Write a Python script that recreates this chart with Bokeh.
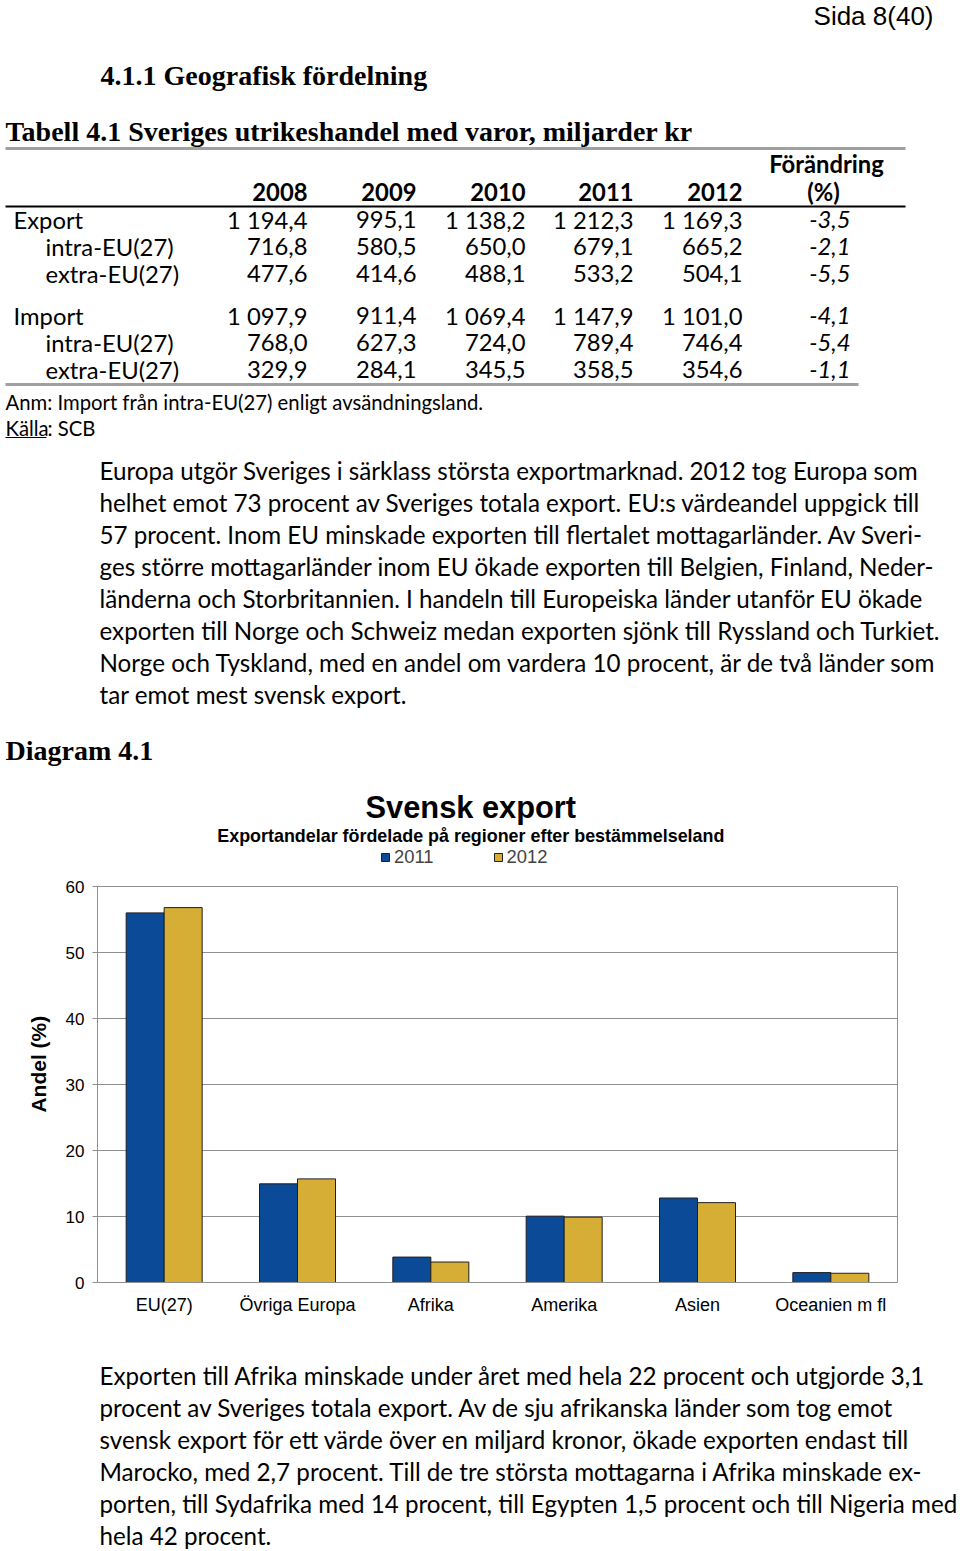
from bokeh.plotting import figure
from bokeh.models import (Range1d, FactorRange, Label, Legend, LegendItem,
                          FixedTicker, ColumnDataSource, LinearAxis)
from bokeh.embed import file_html
from bokeh.resources import INLINE
from bokeh.core.properties import value
from bokeh.transform import dodge

# ---------------- data ----------------
page_label = "Sida 8(40)"
section_heading = "4.1.1 Geografisk fördelning"
table_title = "Tabell 4.1 Sveriges utrikeshandel med varor, miljarder kr"
years = ["2008", "2009", "2010", "2011", "2012"]
change_header = ["Förändring", "(%)"]
row_labels = ["Export", "intra-EU(27)", "extra-EU(27)",
              "Import", "intra-EU(27)", "extra-EU(27)"]
export_total = ["1 194,4", "995,1", "1 138,2", "1 212,3", "1 169,3"]
export_intra = ["716,8", "580,5", "650,0", "679,1", "665,2"]
export_extra = ["477,6", "414,6", "488,1", "533,2", "504,1"]
import_total = ["1 097,9", "911,4", "1 069,4", "1 147,9", "1 101,0"]
import_intra = ["768,0", "627,3", "724,0", "789,4", "746,4"]
import_extra = ["329,9", "284,1", "345,5", "358,5", "354,6"]
change_pct = ["-3,5", "-2,1", "-5,5", "-4,1", "-5,4", "-1,1"]
note_text = "Anm: Import från intra-EU(27) enligt avsändningsland."
source_label = "Källa"
source_text = ": SCB"

paragraph_1 = [
    "Europa utgör Sveriges i särklass största exportmarknad. 2012 tog Europa som",
    "helhet emot 73 procent av Sveriges totala export. EU:s värdeandel uppgick till",
    "57 procent. Inom EU minskade exporten till flertalet mottagarländer. Av Sveri-",
    "ges större mottagarländer inom EU ökade exporten till Belgien, Finland, Neder-",
    "länderna och Storbritannien. I handeln till Europeiska länder utanför EU ökade",
    "exporten till Norge och Schweiz medan exporten sjönk till Ryssland och Turkiet.",
    "Norge och Tyskland, med en andel om vardera 10 procent, är de två länder som",
    "tar emot mest svensk export.",
]
diagram_heading = "Diagram 4.1"

chart_title = "Svensk export"
chart_subtitle = "Exportandelar fördelade på regioner efter bestämmelseland"
y_axis_title = "Andel (%)"
categories = ["EU(27)", "Övriga Europa", "Afrika", "Amerika", "Asien", "Oceanien m fl"]
series_names = ["2011", "2012"]
share_2011 = [56.0, 14.95, 3.85, 10.05, 12.8, 1.5]
share_2012 = [56.8, 15.7, 3.1, 9.9, 12.1, 1.4]
y_ticks = [0, 10, 20, 30, 40, 50, 60]

paragraph_2 = [
    "Exporten till Afrika minskade under året med hela 22 procent och utgjorde 3,1",
    "procent av Sveriges totala export. Av de sju afrikanska länder som tog emot",
    "svensk export för ett värde över en miljard kronor, ökade exporten endast till",
    "Marocko, med 2,7 procent. Till de tre största mottagarna i Afrika minskade ex-",
    "porten, till Sydafrika med 14 procent, till Egypten 1,5 procent och till Nigeria med",
    "hela 42 procent.",
]

# ---------------- styling ----------------
W = 960
BODY = "Lato"
BODY_SIZE = 24.2
TABLE_SIZE = 23.8
NOTE_SIZE = 20.3
HEAD_SIZE = 28
SERIF = "Liberation Serif"
SANS = "Liberation Sans"
BLUE = "#0B4A96"
GOLD = "#D6AE35"
EDGE = "#1f1f1f"
GRID = "#8f8f8f"


def blank(h):
    p = figure(width=W, height=h, x_range=Range1d(0, W), y_range=Range1d(h, 0),
               output_backend="svg", toolbar_location=None, min_border=0,
               x_axis_location=None, y_axis_location=None)
    p.grid.visible = False
    p.outline_line_color = None
    return p


def txt(p, x, y, s, size, font, style="normal", align="left", color="black"):
    p.text(x=[x], y=[y], text=[s], text_font=value(font),
           text_font_size=value(f"{size}px"), text_font_style=style,
           text_align=align, text_baseline="middle", text_color=color)


# ---------------- top figure (page y 0..776) ----------------
top_h = 776
top = blank(top_h)

txt(top, 933, 15, page_label, 26, SANS, align="right")
txt(top, 100, 75, section_heading, HEAD_SIZE, SERIF, "bold")
txt(top, 5, 131, table_title, HEAD_SIZE, SERIF, "bold")
top.segment(x0=[5], y0=[148], x1=[905], y1=[148], line_color="#a0a0a0", line_width=3)

col_right = [307, 416, 525, 633, 742]
chg_right = 850
for xr, yr in zip(col_right, years):
    txt(top, xr, 191, yr, TABLE_SIZE, BODY, "bold", "right")
txt(top, 826, 163, change_header[0], TABLE_SIZE, BODY, "bold", "center")
txt(top, 823, 191, change_header[1], TABLE_SIZE, BODY, "bold", "center")
top.segment(x0=[5], y0=[206], x1=[905], y1=[206], line_color="black", line_width=2)

rows = [export_total, export_intra, export_extra, import_total, import_intra, import_extra]
row_y = [219, 246, 273, 315, 342, 369]
for i, (lab, vals, yy) in enumerate(zip(row_labels, rows, row_y)):
    lx = 13 if i % 3 == 0 else 45
    txt(top, lx, yy, lab, TABLE_SIZE, BODY)
    for xr, v in zip(col_right, vals):
        txt(top, xr, yy, v, TABLE_SIZE, BODY, align="right")
    txt(top, chg_right, yy, change_pct[i], TABLE_SIZE, BODY, "italic", "right")
top.segment(x0=[5], y0=[384], x1=[858], y1=[384], line_color="#a0a0a0", line_width=3)

txt(top, 5, 401, note_text, NOTE_SIZE, BODY)
txt(top, 5, 427, source_label, NOTE_SIZE, BODY)
txt(top, 47, 427, source_text, NOTE_SIZE, BODY)
top.segment(x0=[5], y0=[437], x1=[46], y1=[437], line_color="black", line_width=1)

for i, line in enumerate(paragraph_1):
    txt(top, 99, 470 + 32 * i, line, BODY_SIZE, BODY)
txt(top, 5, 750, diagram_heading, HEAD_SIZE, SERIF, "bold")

# ---------------- chart figure (page y 776..1330) ----------------
Y_TOP = 75  # headroom above the 60 line for title and legend
src = ColumnDataSource(dict(cat=categories, y2011=share_2011, y2012=share_2012))
c = figure(x_range=FactorRange(*categories), y_range=Range1d(0, Y_TOP),
           frame_width=800, frame_height=495,
           min_border_left=97, min_border_right=63, min_border_top=11, min_border_bottom=48,
           output_backend="svg", toolbar_location=None)
r1 = c.vbar(x=dodge("cat", -0.1425, range=c.x_range), top="y2011", width=0.285,
            source=src, fill_color=BLUE, line_color=EDGE, line_width=1)
r2 = c.vbar(x=dodge("cat", 0.1425, range=c.x_range), top="y2012", width=0.285,
            source=src, fill_color=GOLD, line_color=EDGE, line_width=1)

c.xgrid.visible = False
c.yaxis.ticker = FixedTicker(ticks=y_ticks)
c.ygrid.grid_line_color = GRID
c.ygrid.grid_line_width = 1
c.outline_line_color = None

c.yaxis.bounds = (0, 60)
c.yaxis.axis_line_color = GRID
c.yaxis.major_tick_line_color = GRID
c.yaxis.major_tick_out = 5
c.yaxis.major_tick_in = 0
c.yaxis.minor_tick_line_color = None
c.yaxis.major_label_standoff = 8
c.yaxis.major_label_text_font = SANS
c.yaxis.major_label_text_font_size = "17px"
c.yaxis.major_label_text_color = "black"
# trailing no-break spaces move the centred label down to the middle of the 0-60 box
c.yaxis.axis_label = y_axis_title + "\u00a0" * 10
c.yaxis.axis_label_text_font = SANS
c.yaxis.axis_label_text_font_size = "21px"
c.yaxis.axis_label_text_font_style = "bold"
c.yaxis.axis_label_text_color = "black"
c.yaxis.axis_label_standoff = 13

right_border = LinearAxis(bounds=(0, 60), ticker=FixedTicker(ticks=[]),
                          axis_line_color=GRID, major_tick_line_color=None,
                          minor_tick_line_color=None, major_label_text_font_size="0px")
c.add_layout(right_border, "right")

c.xaxis.axis_line_color = GRID
c.xaxis.major_tick_line_color = None
c.xaxis.major_tick_out = 0
c.xaxis.major_tick_in = 0
c.xaxis.major_label_standoff = 12
c.xaxis.major_label_text_font = SANS
c.xaxis.major_label_text_font_size = "18px"
c.xaxis.major_label_text_color = "black"

# title / subtitle (positions in the chart's own data coordinates)
c.add_layout(Label(x=2.8, y=71.95, text=chart_title,
                   text_align="center", text_baseline="middle", text_font=SANS,
                   text_font_size="30.8px", text_font_style="bold", text_color="black"))
c.add_layout(Label(x=2.8, y=67.7, text=chart_subtitle,
                   text_align="center", text_baseline="middle", text_font=SANS,
                   text_font_size="17.9px", text_font_style="bold", text_color="black"))

legend = Legend(items=[LegendItem(label=series_names[0], renderers=[r1]),
                       LegendItem(label=series_names[1], renderers=[r2])],
                orientation="horizontal", location=(283, 414),
                glyph_width=10, glyph_height=10, label_standoff=4, spacing=59,
                padding=0, margin=0, border_line_color=None, background_fill_alpha=0,
                label_text_font=SANS, label_text_font_size="18.4px",
                label_height=20)
c.add_layout(legend, "center")

# ---------------- bottom figure (page y 1330..1551) ----------------
bot_h = 221
bot = blank(bot_h)
for i, line in enumerate(paragraph_2):
    txt(bot, 99, 1375 + 32 * i - 1330, line, BODY_SIZE, BODY)

open("out.html", "w").write(file_html((top, c, bot), INLINE))
